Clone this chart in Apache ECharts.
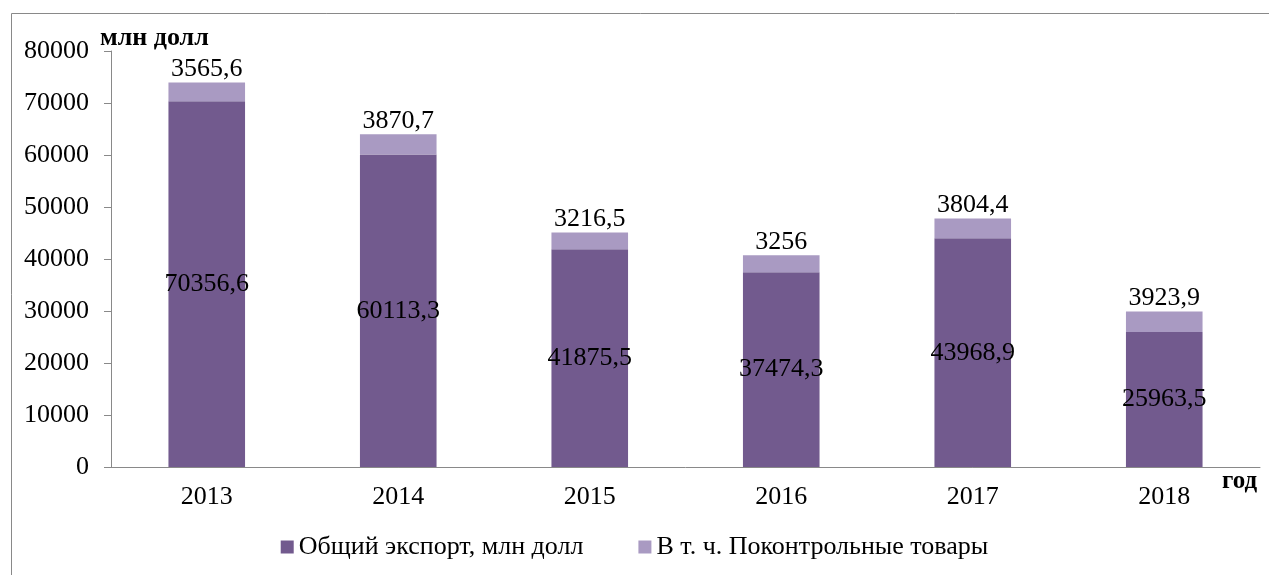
<!DOCTYPE html>
<html>
<head>
<meta charset="utf-8">
<script src="https://cdn.jsdelivr.net/npm/echarts@6/dist/echarts.min.js"></script>
<style>
  html, body { margin: 0; padding: 0; background: #fff; }
  #chart { width: 1269px; height: 575px; }
</style>
</head>
<body>
<div id="chart"></div>
<script>
// years and values, mln USD
const years = ['2013', '2014', '2015', '2016', '2017', '2018'];
const totalExport = [70356.6, 60113.3, 41875.5, 37474.3, 43968.9, 25963.5];
const controlledGoods = [3565.6, 3870.7, 3216.5, 3256, 3804.4, 3923.9];
const seriesNames = ['Общий экспорт, млн долл', 'В т. ч. Поконтрольные товары'];

const font = '"Liberation Serif", "Times New Roman", serif';
const fmt = p => String(p.value).replace('.', ',');

const chart = echarts.init(document.getElementById('chart'));
chart.setOption({
  animation: false,
  textStyle: { fontFamily: font },
  graphic: [{
    type: 'rect',
    shape: { x: 11.5, y: 13.5, width: 1300, height: 620 },
    style: { fill: 'none', stroke: '#898989', lineWidth: 1 },
    silent: true
  }],
  grid: { left: 111, right: 9, top: 51, bottom: 108 },
  legend: {
    bottom: 10,
    left: 'center',
    itemWidth: 13,
    itemHeight: 13,
    itemGap: 55,
    icon: 'rect',
    textStyle: { fontFamily: font, fontSize: 26, color: '#000' },
    data: seriesNames
  },
  xAxis: {
    type: 'category',
    data: years,
    name: 'год',
    nameLocation: 'end',
    nameGap: -38,
    nameTextStyle: { fontFamily: font, fontSize: 25, fontWeight: 'bold', color: '#000', align: 'left', verticalAlign: 'top', padding: [2, 0, 0, 0] },
    axisLine: { lineStyle: { color: '#898989' } },
    axisTick: { length: 6, lineStyle: { color: '#898989' } },
    axisLabel: { fontFamily: font, fontSize: 26, color: '#000', margin: 17 }
  },
  yAxis: {
    type: 'value',
    min: 0,
    max: 80000,
    interval: 10000,
    name: 'млн долл',
    nameLocation: 'end',
    nameGap: 0,
    nameTextStyle: { fontFamily: font, fontSize: 26, fontWeight: 'bold', color: '#000', align: 'left', padding: [0, 0, 0, -11] },
    splitLine: { show: false },
    axisLine: { show: true, lineStyle: { color: '#898989' } },
    axisTick: { show: true, length: 7, lineStyle: { color: '#898989' } },
    axisLabel: { fontFamily: font, fontSize: 26, color: '#000', margin: 22, formatter: v => String(v) }
  },
  series: [
    {
      name: seriesNames[0],
      type: 'bar',
      stack: 'total',
      data: totalExport,
      barWidth: '40%',
      itemStyle: { color: '#725A8E' },
      label: { show: true, position: 'inside', formatter: fmt, fontFamily: font, fontSize: 26, color: '#000' }
    },
    {
      name: seriesNames[1],
      type: 'bar',
      stack: 'total',
      data: controlledGoods,
      barWidth: '40%',
      itemStyle: { color: '#A99AC2' },
      label: { show: true, position: 'top', distance: 0, formatter: fmt, fontFamily: font, fontSize: 26, color: '#000' }
    }
  ]
});
</script>
</body>
</html>
